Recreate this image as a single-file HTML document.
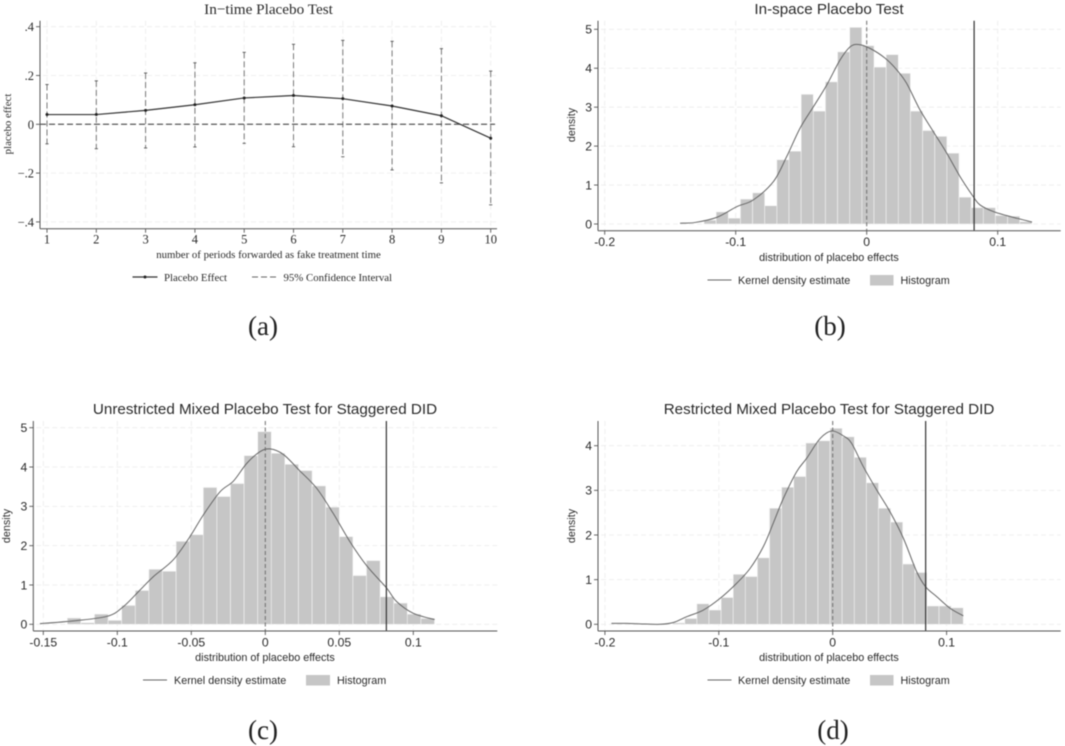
<!DOCTYPE html>
<html lang="en">
<head>
<meta charset="utf-8">
<title>Placebo Tests</title>
<style>
html,body{margin:0;padding:0;background:#fff;width:1065px;height:746px;overflow:hidden}
svg{display:block;filter:blur(0.45px)}
.serif{font-family:"Liberation Serif",serif;fill:#2a2a2a}
.sans{font-family:"Liberation Sans",sans-serif;fill:#2a2a2a}
</style>
</head>
<body>
<svg id="figure" xmlns="http://www.w3.org/2000/svg" width="1065" height="746" viewBox="0 0 1065 746">
<rect width="1065" height="746" fill="#fff"/>

<g id="panel-a">
  <text class="serif" x="268.5" y="14" font-size="15.2" text-anchor="middle">In−time Placebo Test</text>
  <text class="serif" x="268.5" y="258" font-size="10.8" text-anchor="middle">number of periods forwarded as fake treatment time</text>
  <text class="serif" font-size="10.8" text-anchor="middle" transform="translate(11,124) rotate(-90)">placebo effect</text>
  <line x1="132.5" x2="157.5" y1="277" y2="277" stroke="#333" stroke-width="1.2"/>
  <circle cx="145" cy="277" r="1.5" fill="#222"/>
  <text class="serif" x="164" y="281" font-size="10.8">Placebo Effect</text>
  <line x1="252" x2="278" y1="277" y2="277" stroke="#666" stroke-width="1" stroke-dasharray="6 3"/>
  <text class="serif" x="283.5" y="281" font-size="10.8">95% Confidence Interval</text>
  <text x="263" y="335" font-size="27" text-anchor="middle" font-family="Liberation Serif, serif" fill="#222">(a)</text>
</g>

<g id="panel-b">
  <text class="sans" x="829" y="14" font-size="15.2" text-anchor="middle">In-space Placebo Test</text>
  <text class="sans" x="829" y="261" font-size="10.8" text-anchor="middle">distribution of placebo effects</text>
  <text class="sans" font-size="10.8" text-anchor="middle" transform="translate(575,125) rotate(-90)">density</text>
  <line x1="707.5" x2="731.5" y1="280" y2="280" stroke="#666" stroke-width="1"/>
  <text class="sans" x="738" y="284" font-size="10.8">Kernel density estimate</text>
  <rect x="870" y="275" width="23.5" height="10.5" fill="#c6c6c6"/>
  <text class="sans" x="900.5" y="284" font-size="10.8">Histogram</text>
  <text x="830" y="335" font-size="27" text-anchor="middle" font-family="Liberation Serif, serif" fill="#222">(b)</text>
</g>

<g id="panel-c">
  <text class="sans" x="265" y="414" font-size="15.2" text-anchor="middle">Unrestricted Mixed Placebo Test for Staggered DID</text>
  <text class="sans" x="265" y="661" font-size="10.8" text-anchor="middle">distribution of placebo effects</text>
  <text class="sans" font-size="10.8" text-anchor="middle" transform="translate(10,526) rotate(-90)">density</text>
  <line x1="143" x2="167" y1="680" y2="680" stroke="#666" stroke-width="1"/>
  <text class="sans" x="174" y="684" font-size="10.8">Kernel density estimate</text>
  <rect x="306" y="675" width="24" height="10.5" fill="#c6c6c6"/>
  <text class="sans" x="337" y="684" font-size="10.8">Histogram</text>
  <text x="263" y="739" font-size="27" text-anchor="middle" font-family="Liberation Serif, serif" fill="#222">(c)</text>
</g>

<g id="panel-d">
  <text class="sans" x="829" y="414" font-size="15.2" text-anchor="middle">Restricted Mixed Placebo Test for Staggered DID</text>
  <text class="sans" x="829" y="661" font-size="10.8" text-anchor="middle">distribution of placebo effects</text>
  <text class="sans" font-size="10.8" text-anchor="middle" transform="translate(575,526) rotate(-90)">density</text>
  <line x1="707.5" x2="731.5" y1="680" y2="680" stroke="#666" stroke-width="1"/>
  <text class="sans" x="738" y="684" font-size="10.8">Kernel density estimate</text>
  <rect x="870" y="675" width="23.5" height="10.5" fill="#c6c6c6"/>
  <text class="sans" x="900.5" y="684" font-size="10.8">Histogram</text>
  <text x="833" y="739" font-size="27" text-anchor="middle" font-family="Liberation Serif, serif" fill="#222">(d)</text>
</g>
</svg>

<script>
// ---- Panel (a) data ----
const periods = [1,2,3,4,5,6,7,8,9,10];
const placeboEffect = [0.04,0.04,0.057,0.08,0.108,0.118,0.105,0.075,0.035,-0.057];
const ciUpper = [0.163,0.178,0.21,0.252,0.295,0.328,0.344,0.34,0.31,0.218];
const ciLower = [-0.08,-0.1,-0.097,-0.093,-0.078,-0.092,-0.133,-0.187,-0.24,-0.33];
const aYTicks = [0.4,0.2,0,-0.2,-0.4];
const aYTickLabels = [".4",".2","0","−.2","−.4"];

// ---- Panel (b) data ----
const bHistStart = -0.1242;
const bHistBinWidth = 0.00927;
const bHist = [0.1,0.31,0.15,0.64,0.8,0.47,1.65,1.87,3.33,2.9,3.65,4.42,5.05,4.58,4.03,4.35,3.87,2.9,2.4,2.25,1.82,0.69,0.42,0.42,0.22,0.2,0.06];
const bKdeX = [-0.1425,-0.131,-0.1145,-0.0992,-0.0865,-0.0712,-0.0611,-0.0509,-0.0407,-0.0305,-0.0204,-0.0127,-0.0064,0.0025,0.014,0.0229,0.0305,0.0407,0.0509,0.0611,0.0712,0.0814,0.0865,0.0967,0.112,0.1262];
const bKdeY = [0.02,0.04,0.17,0.445,0.62,1.09,1.73,2.46,3.01,3.57,4.21,4.55,4.61,4.51,4.26,3.96,3.61,2.93,2.37,1.82,1.22,0.7,0.49,0.32,0.17,0.05];
const bXTicks = [-0.2,-0.1,0,0.1];
const bXTickLabels = ["-0.2","-0.1","0","0.1"];
const bYTicks = [0,1,2,3,4,5];
const bActualEffect = 0.082;

// ---- Panel (c) data ----
const cHistStart = -0.1338;
const cHistBinWidth = 0.00919;
const cHist = [0.16,0.04,0.26,0.1,0.48,0.86,1.4,1.35,2.11,2.28,3.48,3.25,3.58,4.29,4.9,4.35,4.07,3.91,3.52,2.98,2.23,1.24,1.62,0.7,0.54,0.26,0.15];
const cKdeX = [-0.1523,-0.1342,-0.1072,-0.0959,-0.0847,-0.0757,-0.0622,-0.0509,-0.0419,-0.0306,-0.0216,-0.0126,-0.0036,0.0032,0.0122,0.0234,0.0347,0.0459,0.0572,0.0685,0.0818,0.0887,0.1,0.1144];
const cKdeY = [0.017,0.07,0.2,0.45,0.87,1.21,1.64,2.23,2.78,3.37,3.64,4.09,4.39,4.46,4.32,3.9,3.46,2.82,2.1,1.49,0.93,0.58,0.28,0.12];
const cXTicks = [-0.15,-0.1,-0.05,0,0.05,0.1];
const cXTickLabels = ["-0.15","-0.1","-0.05","0","0.05","0.1"];
const cYTicks = [0,1,2,3,4,5];
const cActualEffect = 0.0818;

// ---- Panel (d) data ----
const dHistStart = -0.1405;
const dHistBinWidth = 0.01063;
const dHist = [0.03,0.13,0.46,0.32,0.6,1.12,1.07,1.49,2.6,3.07,3.31,4.06,4.11,4.39,4.2,3.74,3.17,2.6,2.29,1.35,1.16,0.41,0.41,0.37];
const dKdeX = [-0.1943,-0.1809,-0.1692,-0.1516,-0.1399,-0.1282,-0.1135,-0.0989,-0.0843,-0.0726,-0.0609,-0.0521,-0.0433,-0.0316,-0.0228,-0.0111,-0.0009,0.0094,0.0167,0.0269,0.0386,0.0503,0.062,0.0737,0.0816,0.0913,0.103,0.1147];
const dKdeY = [0.02,0.02,0.01,0,0.04,0.17,0.32,0.58,0.92,1.25,1.74,2.27,2.82,3.42,3.72,4.16,4.33,4.22,4.05,3.53,3.01,2.52,1.93,1.18,0.84,0.62,0.36,0.19];
const dXTicks = [-0.2,-0.1,0,0.1];
const dXTickLabels = ["-0.2","-0.1","0","0.1"];
const dYTicks = [0,1,2,3,4];
const dActualEffect = 0.0816;

const NS = 'http://www.w3.org/2000/svg';
function scale(d0, d1, r0, r1) {
  return v => r0 + (v - d0) * (r1 - r0) / (d1 - d0);
}
function svgEl(parent, tag, attrs, text) {
  const el = document.createElementNS(NS, tag);
  for (const k in attrs) el.setAttribute(k, attrs[k]);
  if (text !== undefined) el.textContent = text;
  parent.appendChild(el);
  return el;
}
function linePath(xs, ys, sx, sy) {
  return xs.map((x, i) => (i ? 'L' : 'M') + sx(x).toFixed(2) + ' ' + sy(ys[i]).toFixed(2)).join('');
}
function smoothPath(xs, ys, sx, sy) {
  const p = xs.map((x, i) => [sx(x), sy(ys[i])]);
  let d = 'M' + p[0][0].toFixed(2) + ' ' + p[0][1].toFixed(2);
  for (let i = 0; i < p.length - 1; i++) {
    const a = p[Math.max(i - 1, 0)], b = p[i], c = p[i + 1], e = p[Math.min(i + 2, p.length - 1)];
    const c1x = b[0] + (c[0] - a[0]) / 6, c1y = b[1] + (c[1] - a[1]) / 6;
    const c2x = c[0] - (e[0] - b[0]) / 6, c2y = c[1] - (e[1] - b[1]) / 6;
    d += 'C' + c1x.toFixed(2) + ' ' + c1y.toFixed(2) + ' ' + c2x.toFixed(2) + ' ' + c2y.toFixed(2) + ' ' + c[0].toFixed(2) + ' ' + c[1].toFixed(2);
  }
  return d;
}
function drawFrame(g, box, sx, sy, xTicks, xLabels, yTicks, yLabels, fontClass, fontSize, xLabelY) {
  yTicks.forEach((t, i) => {
    const grid = svgEl(g, 'line', {x1: box.left + 3, x2: box.right, y1: sy(t), y2: sy(t), stroke: '#ececec', 'stroke-width': 0.8, 'stroke-dasharray': '5 3'});
    
    
    const tick = svgEl(g, 'line', {x1: box.left - 4, x2: box.left, y1: sy(t), y2: sy(t), stroke: '#555', 'stroke-width': 0.9});
    
    
    const label = svgEl(g, 'text', {class: fontClass, x: box.left - 6, y: sy(t) + fontSize * 0.36, 'font-size': fontSize, 'text-anchor': 'end'}, yLabels[i]);
    
    
  });
  xTicks.forEach((t, i) => {
    const grid = svgEl(g, 'line', {x1: sx(t), x2: sx(t), y1: box.top, y2: box.bottom, stroke: '#ececec', 'stroke-width': 0.8, 'stroke-dasharray': '5 3'});
    
    
    const tick = svgEl(g, 'line', {x1: sx(t), x2: sx(t), y1: box.bottom, y2: box.bottom + 4, stroke: '#555', 'stroke-width': 0.9});
    
    
    const label = svgEl(g, 'text', {class: fontClass, x: sx(t), y: xLabelY, 'font-size': fontSize, 'text-anchor': 'middle'}, xLabels[i]);
    
    
  });
}
function drawAxes(g, box) {
  const xAxis = svgEl(g, 'line', {x1: box.left, x2: box.right, y1: box.bottom, y2: box.bottom, stroke: '#555', 'stroke-width': 1});
  
  
  const yAxis = svgEl(g, 'line', {x1: box.left, x2: box.left, y1: box.top, y2: box.bottom, stroke: '#555', 'stroke-width': 1});
  
  
}
function drawHistPanel(id, box, sx, sy, hist, start, binW, kdeX, kdeY, xTicks, xLabels, yTicks, effect) {
  const g = document.getElementById(id);
  drawFrame(g, box, sx, sy, xTicks, xLabels, yTicks, yTicks.map(String), 'sans', 12.2, box.bottom + 15.5);
  hist.forEach((h, i) => {
    const x0 = sx(start + i * binW), x1 = sx(start + (i + 1) * binW);
    const bar = svgEl(g, 'rect', {x: x0, y: sy(h), width: x1 - x0, height: sy(0) - sy(h), fill: '#c6c6c6', stroke: '#f4f4f4', 'stroke-width': 0.6});
    
    
  });
  const zero = svgEl(g, 'line', {x1: sx(0), x2: sx(0), y1: box.top, y2: box.bottom, stroke: '#6e6e6e', 'stroke-width': 1, 'stroke-dasharray': '4 2.5'});
  
  
  const kde = svgEl(g, 'path', {d: smoothPath(kdeX, kdeY, sx, sy), fill: 'none', stroke: '#666', 'stroke-width': 1, 'stroke-linejoin': 'round'});
  
  
  const actual = svgEl(g, 'line', {x1: sx(effect), x2: sx(effect), y1: box.top, y2: box.bottom, stroke: '#333', 'stroke-width': 1.2});
  
  
  drawAxes(g, box);
}

// Panel (a)
(function () {
  const g = document.getElementById('panel-a');
  const box = {left: 40, right: 497, top: 20.7, bottom: 228.7};
  const sx = scale(1, 10, 47, 490.7);
  const sy = scale(0, 0.4, 124.3, 26.7);
  drawFrame(g, box, sx, sy, periods, periods.map(String), aYTicks, aYTickLabels, 'serif', 12.5, 243.5);
  periods.forEach((p, i) => {
    const ci = svgEl(g, 'line', {x1: sx(p), x2: sx(p), y1: sy(ciUpper[i]), y2: sy(ciLower[i]), stroke: '#6a6a6a', 'stroke-width': 0.9, 'stroke-dasharray': '6 3'});
    
    
    [ciUpper[i], ciLower[i]].forEach(v => {
      const cap = svgEl(g, 'line', {x1: sx(p) - 1.6, x2: sx(p) + 1.6, y1: sy(v), y2: sy(v), stroke: '#555', 'stroke-width': 0.9});
      
      
    });
  });
  const zero = svgEl(g, 'line', {x1: box.left, x2: box.right - 2, y1: sy(0), y2: sy(0), stroke: '#333', 'stroke-width': 1, 'stroke-dasharray': '6 3'});
  
  
  const effect = svgEl(g, 'path', {d: linePath(periods, placeboEffect, sx, sy), fill: 'none', stroke: '#333', 'stroke-width': 1.2});
  
  
  periods.forEach((p, i) => {
    const dot = svgEl(g, 'circle', {cx: sx(p), cy: sy(placeboEffect[i]), r: 1.5, fill: '#222'});
    
    
  });
  drawAxes(g, box);
})();

// Panels (b), (c), (d)
drawHistPanel('panel-b', {left: 598, right: 1060.7, top: 20.7, bottom: 230.7},
  scale(0, 0.1, 866.7, 997.7), scale(0, 5, 224, 29.3),
  bHist, bHistStart, bHistBinWidth, bKdeX, bKdeY, bXTicks, bXTickLabels, bYTicks, bActualEffect);
drawHistPanel('panel-c', {left: 33.3, right: 497.3, top: 421, bottom: 631},
  scale(0, 0.1, 265.3, 413.3), scale(0, 5, 624.3, 427.7),
  cHist, cHistStart, cHistBinWidth, cKdeX, cKdeY, cXTicks, cXTickLabels, cYTicks, cActualEffect);
drawHistPanel('panel-d', {left: 598, right: 1060.7, top: 421, bottom: 631},
  scale(0, 0.1, 832.7, 946.6), scale(0, 4, 624.3, 445.7),
  dHist, dHistStart, dHistBinWidth, dKdeX, dKdeY, dXTicks, dXTickLabels, dYTicks, dActualEffect);
</script>
</body>
</html>
